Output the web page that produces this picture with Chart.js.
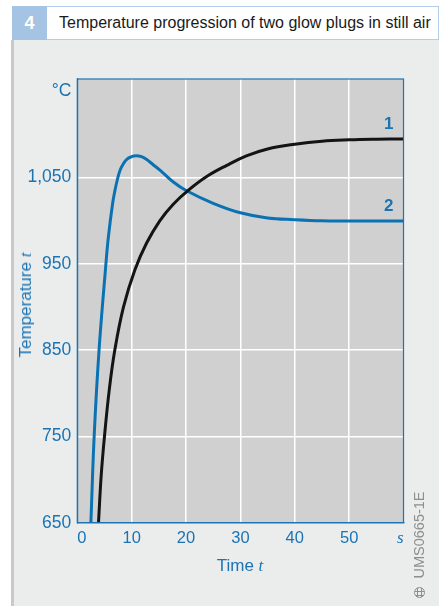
<!DOCTYPE html>
<html>
<head>
<meta charset="utf-8">
<script src="https://cdn.jsdelivr.net/npm/chart.js@4/dist/chart.umd.min.js"></script>
<style>
  html, body { margin: 0; padding: 0; background: #ffffff; }
  body { width: 441px; height: 606px; position: relative; overflow: hidden;
         font-family: "Liberation Sans", Arial, sans-serif; }
  .panel { position: absolute; left: 11px; top: 40px; width: 428px; height: 566px;
           background: #ebecec; border-left: 3px solid #c8caca; box-sizing: border-box; }
  .numbox { position: absolute; left: 12px; top: 6px; width: 35px; height: 34px;
            background: #a5c3e2; color: #ffffff; font-weight: bold; font-size: 18px;
            line-height: 34px; text-align: center; }
  .titlebox { position: absolute; left: 47px; top: 6px; width: 392px; height: 34px;
              background: #ffffff; border: 1.5px solid #b4cde8; border-left: none;
              box-sizing: border-box; }
  .titlebox span { position: absolute; left: 12px; top: 0; line-height: 31px;
                   font-size: 16px; color: #1a1a1a; white-space: nowrap; }
  canvas { position: absolute; left: 0; top: 0; }
  .xtitle { position: absolute; left: 77px; width: 326px; top: 556px; text-align: center;
            font-size: 17px; color: #1a74b4; line-height: 20px; }
  .ytitle { position: absolute; left: 26px; top: 305px; transform: translate(-50%, -50%) rotate(-90deg);
            font-size: 17px; color: #1a74b4; line-height: 20px; white-space: nowrap; }
  .xtitle i, .ytitle i { font-family: "Liberation Serif", "DejaVu Serif", serif; }
  .credit { position: absolute; left: 419px; top: 535px; transform: translate(-50%, -50%) rotate(-90deg);
            font-size: 14.5px; color: #8d8f8f; white-space: nowrap; line-height: 16px; }
  .mark { position: absolute; left: 413.5px; top: 586.5px; width: 11px; height: 11px;
          border: 1.2px solid #8d8f8f; border-radius: 50%; box-sizing: border-box; }
  .mark::before { content: ""; position: absolute; left: 0; right: 0; top: 3px; height: 3px;
                  border-top: 1px solid #8d8f8f; border-bottom: 1px solid #8d8f8f; }
  .mark::after { content: ""; position: absolute; top: 0; bottom: 0; left: 2.5px; width: 3px;
                 border-left: 1px solid #8d8f8f; border-right: 1px solid #8d8f8f; }
</style>
</head>
<body>
<div class="panel"></div>
<div class="numbox">4</div>
<div class="titlebox"><span>Temperature progression of two glow plugs in still air</span></div>
<canvas id="chart" width="441" height="606"></canvas>
<div class="xtitle">Time <i>t</i></div>
<div class="ytitle">Temperature <i>t</i></div>
<div class="credit">UMS0665-1E</div>
<div class="mark"></div>
<script>
// Time axis (s) and temperature axis (°C) ticks
const timeTicks = [0, 10, 20, 30, 40, 50, 60];
const tempTicks = [650, 750, 850, 950, 1050, 1150];

// Glow plug 1 (black): time in s, temperature in °C
const plug1Time = [3.9, 4.4, 5.0, 5.9, 6.9, 8.5, 10.6, 12.75, 15.2, 17.65, 20.4, 23.8, 27.5, 31.1, 35, 40, 45, 50, 55, 60];
const plug1Temp = [650, 705, 750, 805, 850, 900, 943, 974, 1000, 1019, 1035, 1051, 1064, 1075, 1083, 1088.5, 1092, 1093.5, 1094.2, 1094.5];

// Glow plug 2 (blue): overshoots, then settles lower
const plug2Time = [2.5, 3.1, 4.0, 5.2, 5.7, 6.5, 6.93, 7.35, 7.85, 8.5, 9.1, 10.0, 10.8, 11.8, 12.7, 13.9, 15.2, 17.6, 20.1, 25, 30, 35, 40, 45, 50, 55, 60];
const plug2Temp = [650, 750, 850, 945, 980, 1020, 1035, 1047, 1058, 1066, 1071, 1074, 1075, 1074, 1071, 1065, 1058.5, 1045, 1034.5, 1020, 1009, 1003, 1001, 999.7, 999.5, 999.5, 999.5];

// Curve numbers
const curveLabels = ["1", "2"];
const curveLabelAt = [[57.3, 1111], [57.3, 1016]];

const BLUE = "#1a74b4";
const toPoints = (xs, ys) => xs.map((x, i) => ({ x: x, y: ys[i] }));

const plotFrame = {
  id: "plotFrame",
  beforeDraw(chart) {
    const a = chart.chartArea, c = chart.ctx;
    c.save();
    c.fillStyle = "#d0d0d0";
    c.fillRect(a.left, a.top, a.right - a.left, a.bottom - a.top);
    c.restore();
  },
  afterDatasetsDraw(chart) {
    const a = chart.chartArea, c = chart.ctx;
    c.save();
    c.strokeStyle = BLUE;
    c.lineWidth = 1.2;
    c.strokeRect(a.left, a.top, a.right - a.left, a.bottom - a.top);
    c.font = "bold 17px 'Liberation Sans', Arial, sans-serif";
    c.fillStyle = BLUE;
    c.textAlign = "center";
    c.textBaseline = "middle";
    curveLabels.forEach((t, i) => {
      const x = chart.scales.x.getPixelForValue(curveLabelAt[i][0]);
      const y = chart.scales.y.getPixelForValue(curveLabelAt[i][1]);
      c.fillText(t, x, y);
    });
    c.restore();
  }
};

new Chart(document.getElementById("chart"), {
  type: "line",
  data: {
    datasets: [
      { label: "1", data: toPoints(plug1Time, plug1Temp), borderColor: "#141414",
        borderWidth: 3, pointRadius: 0, tension: 0.4, fill: false },
      { label: "2", data: toPoints(plug2Time, plug2Temp), borderColor: "#0a72b2",
        borderWidth: 3, pointRadius: 0, tension: 0.4, fill: false }
    ]
  },
  options: {
    responsive: false,
    animation: false,
    devicePixelRatio: 1,
    layout: { padding: { left: 0, top: 79, right: 37.5, bottom: 0 } },
    plugins: { legend: { display: false }, tooltip: { enabled: false } },
    scales: {
      x: {
        type: "linear", min: 0, max: 60,
        afterBuildTicks: s => { s.ticks = timeTicks.map(v => ({ value: v })); },
        afterFit: s => { s.height = 606 - 522.7; },
        grid: { drawTicks: false, lineWidth: 1.5,
                color: ctx => (ctx.tick && ctx.tick.value > 0 && ctx.tick.value < 60) ? "#ffffff" : "rgba(0,0,0,0)" },
        border: { display: true, color: BLUE, width: 1.2 },
        ticks: {
          padding: 6, align: "inner", color: BLUE, maxRotation: 0, autoSkip: false,
          font: ctx => (ctx.tick && ctx.tick.value === 60)
            ? { family: "'Liberation Serif', serif", style: "italic", size: 17 }
            : { family: "'Liberation Sans', Arial, sans-serif", size: 16.5 },
          callback: v => v === 60 ? "s" : String(v)
        }
      },
      y: {
        type: "linear", min: 650, max: 1164,
        afterBuildTicks: s => { s.ticks = tempTicks.map(v => ({ value: v })); },
        afterFit: s => { s.width = 77.3; },
        grid: { drawTicks: false, lineWidth: 1.5,
                color: ctx => (ctx.tick && ctx.tick.value > 650 && ctx.tick.value < 1150) ? "#ffffff" : "rgba(0,0,0,0)" },
        border: { display: true, color: BLUE, width: 1.2 },
        ticks: {
          padding: 6, color: BLUE, autoSkip: false,
          font: { family: "'Liberation Sans', Arial, sans-serif", size: 17.5 },
          callback: v => v === 1150 ? "°C" : v.toLocaleString("en-US")
        }
      }
    }
  },
  plugins: [plotFrame]
});
</script>
</body>
</html>
